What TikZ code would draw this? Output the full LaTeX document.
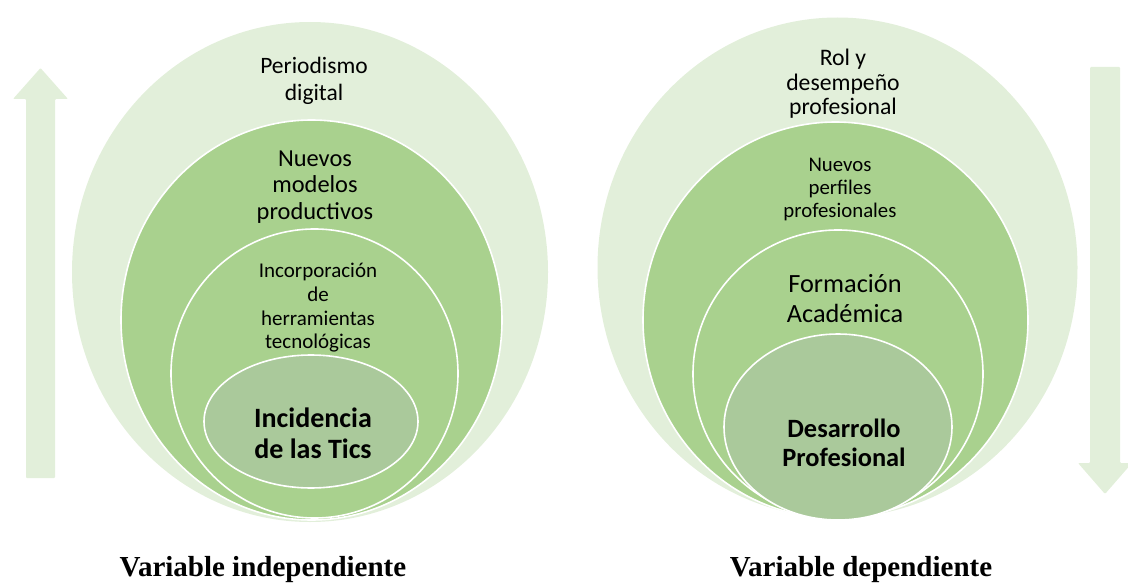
\documentclass[tikz,border=0pt]{standalone}
\usepackage{fontspec}
\setmainfont{Carlito}
\newfontfamily\capfont{Liberation Serif}
\usetikzlibrary{positioning}
\definecolor{paleg}{RGB}{226,239,218}
\definecolor{midg}{RGB}{169,209,142}
\definecolor{coreg}{RGB}{170,201,155}

\begin{document}
\begin{tikzpicture}[x=1pt,y=-1pt]
  \tikzset{ring/.style = {draw=white, line width=1.6pt}}
  \tikzset{lbl/.style = {align=center, inner sep=0pt}}
  \tikzset{caption/.style = {inner sep=0pt, font=\capfont\bfseries\fontsize{29}{32}\selectfont}}

  \useasboundingbox (0,0) rectangle (1128,586);

  % arrows
  \fill[paleg, rounded corners=1pt] (26,478) -- (26,99) -- (13,99) -- (40.5,68) -- (68,99) -- (55,99) -- (55,478) -- cycle;
  \fill[paleg, rounded corners=1pt] (1090,67) -- (1090,463) -- (1078,463) -- (1105,494) -- (1132,463) -- (1120,463) -- (1120,67) -- cycle;

  % left group
  \fill[paleg] (310,272) ellipse [x radius=238, y radius=250];
  \draw[ring, fill=midg] (311.5,320) ellipse [x radius=190.5, y radius=200];
  \draw[ring, fill=midg] (314.5,373.5) ellipse [x radius=143.5, y radius=144.5];
  \draw[ring, fill=coreg] (311,421.5) ellipse [x radius=107, y radius=66.5];

	\node[lbl, font=\fontsize{23.5}{27}\selectfont] (PD) at (314,80.5) {Periodismo\\digital};
	\node[lbl, font=\fontsize{24.4}{26.5}\selectfont] (NM) at (315,187) {Nuevos\\modelos\\productivos};
	\node[lbl, font=\fontsize{21}{23.7}\selectfont] (IH) at (318,308) {Incorporación\\de\\herramientas\\tecnológicas};
	\node[lbl, font=\bfseries\fontsize{28}{31}\selectfont] (IT) at (313,433) {Incidencia\\de las Tics};

  % right group
  \fill[paleg] (837.5,267.5) ellipse [x radius=240, y radius=250];
  \draw[ring, fill=midg] (835.5,320) ellipse [x radius=192.5, y radius=198];
  \draw[ring, fill=midg] (838,374) ellipse [x radius=145, y radius=144];
  \draw[ring, fill=coreg] (838,427) ellipse [x radius=114, y radius=93];

	\node[lbl, font=\fontsize{23.7}{24.5}\selectfont] (RD) at (843,84) {Rol y\\desempeño\\profesional};
	\node[lbl, font=\fontsize{20.8}{23}\selectfont] (NP) at (840,190) {Nuevos\\perfiles\\profesionales};
	\node[lbl, font=\fontsize{26.3}{30}\selectfont] (FA) at (845,299) {Formación\\Académica};
	\node[lbl, font=\bfseries\fontsize{26.4}{29}\selectfont] (DP) at (844,443) {Desarrollo\\Profesional};

  % captions
  \node[caption] (VI) at (263,570) {Variable independiente};
  \node[caption] (VD) at (861,570) {Variable dependiente};

\end{tikzpicture}
\end{document}
